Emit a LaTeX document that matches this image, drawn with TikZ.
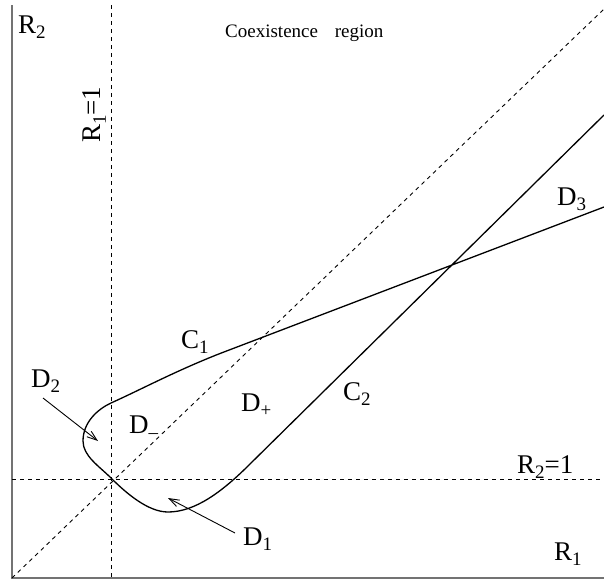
\documentclass[tikz,border=0pt]{standalone}
\usepackage{fontspec}
\setmainfont{Liberation Serif}
\usetikzlibrary{arrows.meta}
\newcommand{\lbsize}{\fontsize{27}{27}\selectfont}
\newcommand{\sbs}[1]{\raisebox{-0.22em}{\fontsize{19}{19}\selectfont #1}}
\begin{document}
\begin{tikzpicture}[x=1pt,y=-1pt,
  lbl/.style={anchor=base west, inner sep=0pt, font=\lbsize},
  axisline/.style={draw=black!55, line width=2pt},
  guide/.style={draw=black, line width=0.9pt, dash pattern=on 4pt off 4pt},
  curveline/.style={draw=black, line width=1.3pt},
  pointer/.style={draw=black, line width=0.9pt, -{Straight Barb[length=10pt,width=7pt]}}]
\useasboundingbox (0,0) rectangle (604,581);
% axes
\coordinate (ytop) at (12,5);
\coordinate (orig) at (12,578);
\coordinate (xend) at (604,578);
\draw[axisline] (ytop) -- (orig) -- (xend);
% guides
\coordinate (v1) at (111,5);
\coordinate (v2) at (111,578);
\coordinate (h1) at (12,479);
\coordinate (h2) at (604,479);
\coordinate (dtop) at (604,9);
\draw[guide] (v1) -- (v2);
\draw[guide] (h1) -- (h2);
\draw[guide] (orig) -- (dtop);
% main curve
\coordinate (c2top) at (604,115);
\coordinate (c2low) at (250,464);
\coordinate (bot) at (168,512);
\coordinate (cross) at (111,478);
\coordinate (left) at (83,441);
\coordinate (up) at (111,403);
\coordinate (c1low) at (220,353.5);
\coordinate (c1end) at (604,207);
\draw[curveline] (c2top) -- (c2low)
  .. controls (222,492) and (195,512) .. (bot)
  .. controls (148,512) and (126,493) .. (cross)
  .. controls (99,466) and (83,456) .. (left)
  .. controls (83,422) and (98,409) .. (up)
  .. controls (141,389.5) and (175,371.2) .. (c1low)
  -- (c1end);
% labels
\node[lbl] (lR2) at (18,33) {R\sbs{2}};
\node[lbl, rotate=90] (lR1eq) at (100,143) {R\sbs{1}=1};
\node[anchor=base west, inner sep=0pt, font=\fontsize{19}{19}\selectfont] (lcoex) at (225,37) {Coexistence\hspace{12pt} region};
\node[lbl] (lD3) at (557,205) {D\sbs{3}};
\node[lbl] (lC1) at (181,348) {C\sbs{1}};
\node[lbl] (lC2) at (343,400) {C\sbs{2}};
\node[lbl] (lDp) at (241,411) {D\sbs{+}};
\node[lbl] (lDm) at (129,433) {D\sbs{–}};
\node[lbl] (lD2) at (31,387) {D\sbs{2}};
\node[lbl] (lD1) at (243,545) {D\sbs{1}};
\node[lbl] (lR2eq) at (517,473) {R\sbs{2}=1};
\node[lbl] (lR1) at (554,560) {R\sbs{1}};
% pointers
\coordinate (p2s) at (43,398);
\coordinate (p2e) at (98,441);
\coordinate (p1s) at (235,533);
\coordinate (p1e) at (168,498);
\draw[pointer] (p2s) -- (p2e);
\draw[pointer] (p1s) -- (p1e);
\end{tikzpicture}
\end{document}
